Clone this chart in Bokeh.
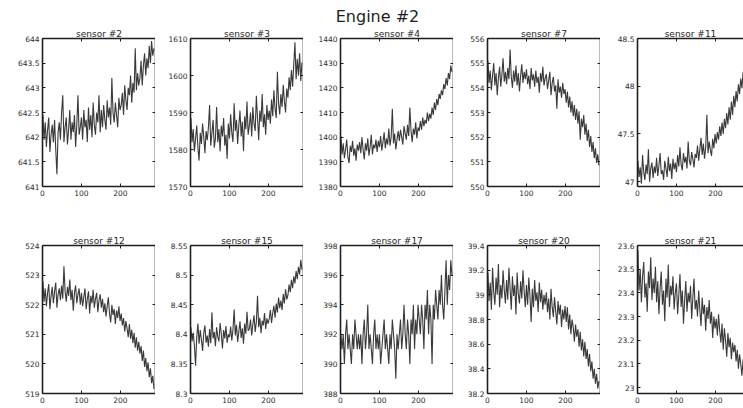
from bokeh.plotting import figure
from bokeh.layouts import column, row
from bokeh.models import LinearAxis, FixedTicker, Range1d, NumeralTickFormatter
from bokeh.core.properties import value
from bokeh.embed import file_html
from bokeh.resources import INLINE

# ---------------- data ----------------
suptitle = "Engine #2"
cycles = list(range(1, 288, 3))
x_ticks = [0, 100, 200]
x_max = 290

titles = ["sensor #2", "sensor #3", "sensor #4", "sensor #7", "sensor #11",
          "sensor #12", "sensor #15", "sensor #17", "sensor #20", "sensor #21"]

sensor_2 = [642.45, 641.95, 642.30, 641.80, 642.15, 642.40, 641.70, 642.05, 642.25, 641.90, 642.35, 641.75, 641.25, 642.10, 642.30, 641.95,
            642.50, 642.85, 641.90, 642.20, 642.40, 641.85, 642.15, 642.55, 641.95, 642.30, 642.10, 642.45, 641.80, 642.25, 642.85, 642.05, 642.20,
            642.40, 641.95, 642.55, 642.20, 642.35, 641.90, 642.60, 642.15, 642.45, 642.00, 642.70, 642.25, 642.05, 642.50, 642.30, 642.85, 642.10,
            642.55, 642.20, 642.65, 642.35, 642.15, 642.75, 642.40, 642.60, 642.25, 643.20, 642.50, 642.30, 642.70, 642.45, 642.20, 642.80, 642.55,
            642.65, 642.90, 642.45, 643.05, 642.75, 642.55, 643.00, 642.85, 643.25, 642.70, 643.10, 642.90, 643.80, 642.95, 643.30, 643.05,
            643.20, 643.55, 643.05, 643.45, 643.70, 643.25, 643.60, 643.40, 643.85, 643.50, 643.95, 643.65, 643.80]

sensor_3 = [1588.5, 1582.0, 1585.5, 1579.5, 1583.0, 1586.5, 1580.5, 1577.0, 1584.5, 1581.5, 1587.0, 1583.5, 1579.0, 1585.0, 1582.5, 1586.0,
            1592.0, 1581.0, 1584.5, 1588.0, 1580.5, 1583.0, 1591.5, 1582.0, 1585.5, 1579.5, 1586.5, 1583.5, 1588.5, 1581.0, 1584.0, 1577.5, 1587.0,
            1583.0, 1589.5, 1584.5, 1582.0, 1592.5, 1585.0, 1588.0, 1581.5, 1586.5, 1590.5, 1583.5, 1587.5, 1579.5, 1589.0, 1585.5, 1593.0, 1584.0,
            1586.5, 1590.0, 1583.5, 1591.5, 1587.0, 1585.0, 1594.5, 1588.5, 1582.5, 1590.5, 1587.5, 1595.0, 1586.0, 1589.5, 1584.0, 1592.0, 1588.0,
            1590.5, 1587.0, 1593.5, 1589.0, 1596.0, 1591.0, 1588.5, 1601.0, 1592.5, 1589.5, 1595.0, 1591.5, 1597.5, 1593.0, 1590.0, 1596.5,
            1594.0, 1599.5, 1596.0, 1601.5, 1597.0, 1603.0, 1609.0, 1599.0, 1604.5, 1600.0, 1606.0, 1598.5, 1603.5]

sensor_4 = [1400.5, 1393.0, 1397.5, 1391.5, 1395.0, 1399.0, 1392.0, 1389.5, 1396.5, 1394.0, 1398.5, 1392.5, 1395.5, 1390.5, 1397.0, 1394.5,
            1398.0, 1393.5, 1400.0, 1395.0, 1391.0, 1397.5, 1394.5, 1399.5, 1392.5, 1396.0, 1401.0, 1393.0, 1397.0, 1395.5, 1399.0, 1394.0, 1398.5,
            1396.0, 1400.5, 1394.5, 1398.0, 1402.0, 1395.5, 1399.5, 1397.0, 1403.5, 1396.5, 1400.0, 1411.5, 1397.5, 1401.5, 1395.0, 1399.0, 1402.5,
            1398.5, 1403.0, 1400.0, 1397.0, 1404.5, 1401.5, 1399.0, 1405.0, 1400.5, 1412.0, 1402.5, 1398.0, 1403.5, 1401.0, 1406.0, 1399.5, 1404.0,
            1402.5, 1406.5, 1403.0, 1408.0, 1404.5, 1407.0, 1405.5, 1410.0, 1406.5, 1409.5, 1407.5, 1412.0, 1409.0, 1414.0, 1411.0, 1415.5,
            1413.0, 1417.5, 1415.5, 1419.0, 1417.0, 1421.5, 1419.5, 1424.0, 1421.0, 1426.0, 1423.5, 1429.0, 1426.5]

sensor_7 = [555.10, 554.20, 554.70, 553.90, 554.50, 555.00, 554.10, 554.60, 553.70, 554.40, 554.85, 554.05, 554.55, 555.20, 554.25, 554.65,
            554.15, 554.80, 554.35, 555.55, 554.45, 554.00, 554.70, 554.25, 554.90, 554.10, 554.60, 553.85, 554.50, 554.95, 554.20, 554.65, 554.35,
            554.75, 554.15, 554.50, 553.95, 554.80, 554.30, 554.55, 554.05, 554.70, 554.20, 554.45, 553.80, 554.60, 554.25, 554.85, 554.10, 554.40,
            554.55, 553.95, 554.30, 554.65, 553.70, 554.20, 554.45, 553.85, 554.10, 553.15, 554.35, 553.80, 554.05, 553.60, 554.20, 553.75, 553.95,
            553.40, 553.85, 553.20, 553.65, 553.00, 553.45, 552.85, 553.30, 552.70, 553.15, 552.55, 553.05, 551.90, 552.75, 552.40, 552.90,
            552.10, 552.55, 551.85, 552.30, 551.60, 552.05, 551.40, 551.80, 551.15, 551.55, 550.95, 551.30, 550.85]

sensor_11 = [47.22, 47.05, 47.15, 46.98, 47.28, 47.10, 47.02, 47.18, 47.08, 47.34, 47.00, 47.14, 47.20, 47.04, 47.16, 47.09,
             47.25, 47.06, 47.17, 47.30, 47.08, 47.12, 47.02, 47.22, 47.14, 47.05, 47.26, 47.11, 47.19, 47.03, 47.24, 47.13, 47.20,
             47.10, 47.28, 47.16, 47.36, 47.18, 47.12, 47.30, 47.20, 47.26, 47.14, 47.42, 47.22, 47.17, 47.31, 47.24, 47.15, 47.29,
             47.25, 47.38, 47.22, 47.34, 47.46, 47.28, 47.40, 47.24, 47.36, 47.70, 47.30, 47.42, 47.33, 47.27, 47.45, 47.35, 47.50,
             47.40, 47.52, 47.44, 47.58, 47.48, 47.62, 47.50, 47.66, 47.56, 47.72, 47.60, 47.78, 47.65, 47.84, 47.70, 47.90,
             47.78, 47.95, 47.84, 48.02, 47.92, 48.08, 47.98, 48.15, 48.04, 48.22, 48.10, 48.28, 48.18]

sensor_12 = [522.80, 522.10, 522.55, 521.95, 522.40, 522.70, 521.85, 522.30, 522.60, 522.05, 522.45, 522.75, 521.90, 522.35, 522.55, 522.15,
             522.65, 522.20, 523.30, 522.45, 522.10, 522.60, 522.30, 522.85, 522.15, 522.50, 521.80, 522.40, 522.65, 522.05, 522.35, 522.55, 522.00,
             522.40, 521.95, 522.25, 522.55, 521.85, 522.20, 522.45, 521.70, 522.30, 522.05, 522.50, 521.90, 522.20, 522.40, 521.75, 522.15, 522.35,
             521.90, 522.20, 521.75, 522.05, 521.60, 521.95, 522.25, 521.70, 521.40, 522.00, 521.65, 521.85, 521.35, 521.80, 521.55, 521.95, 521.45,
             521.70, 521.30, 521.55, 521.10, 521.45, 521.20, 520.90, 521.35, 520.85, 521.15, 520.70, 521.05, 520.55, 520.90, 520.45, 520.75,
             520.35, 520.60, 520.10, 520.45, 519.90, 520.20, 519.75, 520.05, 519.55, 519.85, 519.35, 519.60, 519.15]

sensor_15 = [8.412, 8.388, 8.403, 8.381, 8.347, 8.395, 8.418, 8.384, 8.407, 8.391, 8.372, 8.402, 8.415, 8.386, 8.398, 8.379,
             8.409, 8.385, 8.437, 8.393, 8.404, 8.380, 8.412, 8.396, 8.388, 8.419, 8.401, 8.376, 8.407, 8.393, 8.414, 8.386, 8.400,
             8.395, 8.413, 8.389, 8.408, 8.442, 8.398, 8.416, 8.387, 8.404, 8.422, 8.394, 8.410, 8.384, 8.418, 8.401, 8.438, 8.406,
             8.409, 8.425, 8.398, 8.417, 8.432, 8.404, 8.421, 8.465, 8.412, 8.428, 8.402, 8.423, 8.415, 8.436, 8.409, 8.427, 8.418,
             8.426, 8.441, 8.419, 8.436, 8.448, 8.428, 8.452, 8.437, 8.462, 8.444, 8.457, 8.441, 8.468, 8.452, 8.476, 8.459,
             8.466, 8.484, 8.471, 8.492, 8.478, 8.498, 8.486, 8.507, 8.493, 8.514, 8.501, 8.526, 8.509]

sensor_17 = [392, 391, 392, 390, 392, 393, 391, 392, 391, 390, 392, 391, 393, 392, 391, 392,
             391, 392, 390, 392, 393, 391, 392, 394, 391, 392, 391, 390, 392, 393, 391, 392, 391,
             392, 390, 391, 392, 393, 391, 392, 391, 390, 392, 391, 393, 392, 391, 389, 392, 391,
             392, 393, 391, 392, 394, 392, 391, 393, 392, 390, 393, 392, 394, 391, 393, 392, 394,
             393, 392, 394, 393, 391, 394, 393, 395, 392, 394, 393, 390, 394, 393, 395, 394,
             393, 395, 394, 396, 394, 393, 395, 397, 394, 396, 395, 397, 396]

sensor_20 = [39.18, 38.95, 39.10, 38.88, 39.22, 39.02, 38.92, 39.14, 39.00, 39.25, 38.90, 39.08, 38.97, 39.20, 39.04, 38.93,
             39.12, 38.96, 39.22, 39.05, 38.88, 39.15, 38.99, 39.08, 38.84, 39.18, 39.01, 38.93, 39.11, 38.97, 39.20, 39.03, 38.90,
             39.08, 38.92, 39.14, 38.99, 38.78, 39.05, 38.90, 39.12, 38.95, 39.02, 38.86, 39.10, 38.94, 39.04, 38.88, 39.00, 38.92,
             39.02, 38.86, 38.97, 38.80, 39.05, 38.90, 38.82, 38.98, 38.87, 38.76, 38.95, 38.84, 38.92, 38.74, 38.88, 38.80, 38.91,
             38.78, 38.90, 38.72, 38.84, 38.68, 38.80, 38.74, 38.62, 38.76, 38.66, 38.72, 38.58, 38.70, 38.55, 38.64, 38.50,
             38.62, 38.48, 38.56, 38.42, 38.52, 38.38, 38.46, 38.32, 38.40, 38.28, 38.36, 38.24, 38.30]

sensor_21 = [23.58, 23.41, 23.50, 23.36, 23.47, 23.53, 23.38, 23.44, 23.32, 23.49, 23.42, 23.55, 23.37, 23.46, 23.40, 23.51,
             23.36, 23.45, 23.31, 23.42, 23.49, 23.35, 23.41, 23.28, 23.46, 23.38, 23.52, 23.34, 23.43, 23.39, 23.47, 23.33, 23.40,
             23.44, 23.31, 23.39, 23.48, 23.34, 23.41, 23.27, 23.37, 23.45, 23.32, 23.40, 23.36, 23.43, 23.29, 23.38, 23.46, 23.33,
             23.37, 23.30, 23.41, 23.33, 23.26, 23.38, 23.31, 23.35, 23.24, 23.34, 23.29, 23.37, 23.27, 23.32, 23.21, 23.30, 23.25,
             23.29, 23.22, 23.31, 23.24, 23.19, 23.27, 23.16, 23.25, 23.20, 23.13, 23.23, 23.17, 23.21, 23.12, 23.19, 23.15,
             23.18, 23.11, 23.16, 23.08, 23.14, 23.10, 23.05, 23.12, 23.07, 23.03, 23.09, 23.04, 23.06]

series = [sensor_2, sensor_3, sensor_4, sensor_7, sensor_11,
          sensor_12, sensor_15, sensor_17, sensor_20, sensor_21]

y_limits = [(641, 644), (1570, 1610), (1380, 1440), (550, 556), (46.95, 48.5),
            (519, 524), (8.3, 8.55), (388, 398), (38.2, 39.4), (22.975, 23.6)]

y_ticks = [[641, 641.5, 642, 642.5, 643, 643.5, 644],
           [1570, 1580, 1590, 1600, 1610],
           [1380, 1390, 1400, 1410, 1420, 1430, 1440],
           [550, 551, 552, 553, 554, 555, 556],
           [47, 47.5, 48, 48.5],
           [519, 520, 521, 522, 523, 524],
           [8.3, 8.35, 8.4, 8.45, 8.5, 8.55],
           [388, 390, 392, 394, 396, 398],
           [38.2, 38.4, 38.6, 38.8, 39, 39.2, 39.4],
           [23, 23.1, 23.2, 23.3, 23.4, 23.5, 23.6]]

# ---------------- layout / style ----------------
FONT = "DejaVu Sans"
INK = "#1e1e1e"
LINE = "#3a3a3a"
FRAME_W = 113
FRAME_H = 148
LEFT_BORDERS = [42, 35, 37, 34, 37]
LAST_FRAME_W = 106
TOP_BORDER = 11
BOTTOM_BORDERS = [47, 13]
TITLE_H = 26


def style_axis(ax, ticks, show_labels):
    ax.ticker = FixedTicker(ticks=ticks)
    ax.formatter = NumeralTickFormatter(format="0.[00]")
    ax.major_tick_in = 3
    ax.major_tick_out = 0
    ax.minor_tick_in = 0
    ax.minor_tick_out = 0
    ax.axis_line_color = INK
    ax.axis_line_width = 1.6
    ax.major_tick_line_color = INK
    ax.major_tick_line_width = 1
    ax.major_label_text_font = FONT
    if show_labels:
        ax.major_label_text_color = "#2a2a2a"
        ax.major_label_text_font_size = "7.5px"
        ax.major_label_standoff = 3
    else:
        # tick marks only (like the inner ticks of a boxed axes): labels not drawn
        ax.major_label_text_color = None
        ax.major_label_text_font_size = "1px"
        ax.major_label_standoff = 0


def make_panel(idx):
    r, c = divmod(idx, 5)
    last = (c == 4)
    fw = LAST_FRAME_W if last else FRAME_W
    x_end = x_max * fw / FRAME_W
    p = figure(frame_width=fw, frame_height=FRAME_H,
               x_range=Range1d(0, x_end), y_range=Range1d(*y_limits[idx]),
               x_axis_location=None, y_axis_location=None,
               min_border_left=LEFT_BORDERS[c], min_border_right=0,
               min_border_top=TOP_BORDER, min_border_bottom=BOTTOM_BORDERS[r],
               toolbar_location=None, output_backend="svg",
               background_fill_color="white", border_fill_color="white")
    p.outline_line_color = None
    p.grid.grid_line_color = None
    p.title.text = titles[idx]
    p.title.align = "center"
    p.title.text_font = FONT
    p.title.text_font_size = "9px"
    p.title.text_font_style = "normal"
    p.title.text_color = INK
    p.title.standoff = 0

    for loc, lab in [("below", True), ("above", False)]:
        ax = LinearAxis()
        style_axis(ax, x_ticks, lab)
        p.add_layout(ax, loc)
    locs = [("left", True)] + ([] if last else [("right", False)])
    for loc, lab in locs:
        ax = LinearAxis()
        style_axis(ax, y_ticks[idx], lab)
        p.add_layout(ax, loc)

    p.line(cycles, series[idx], line_color=LINE, line_width=1.1)
    return p


tp = figure(frame_width=743, frame_height=TITLE_H, x_range=Range1d(0, 743), y_range=Range1d(0, TITLE_H),
            x_axis_location=None, y_axis_location=None, min_border=0,
            toolbar_location=None, output_backend="svg",
            background_fill_color="white", border_fill_color="white")
tp.outline_line_color = None
tp.grid.grid_line_color = None
tp.text(x=[377], y=[10], text=[suptitle], text_align="center", text_baseline="middle",
        text_font=value(FONT), text_font_size="16px", text_color=INK)

panels = [make_panel(i) for i in range(10)]
layout = column(tp, row(*panels[:5]), row(*panels[5:]))

open("out.html", "w").write(file_html(layout, INLINE))
